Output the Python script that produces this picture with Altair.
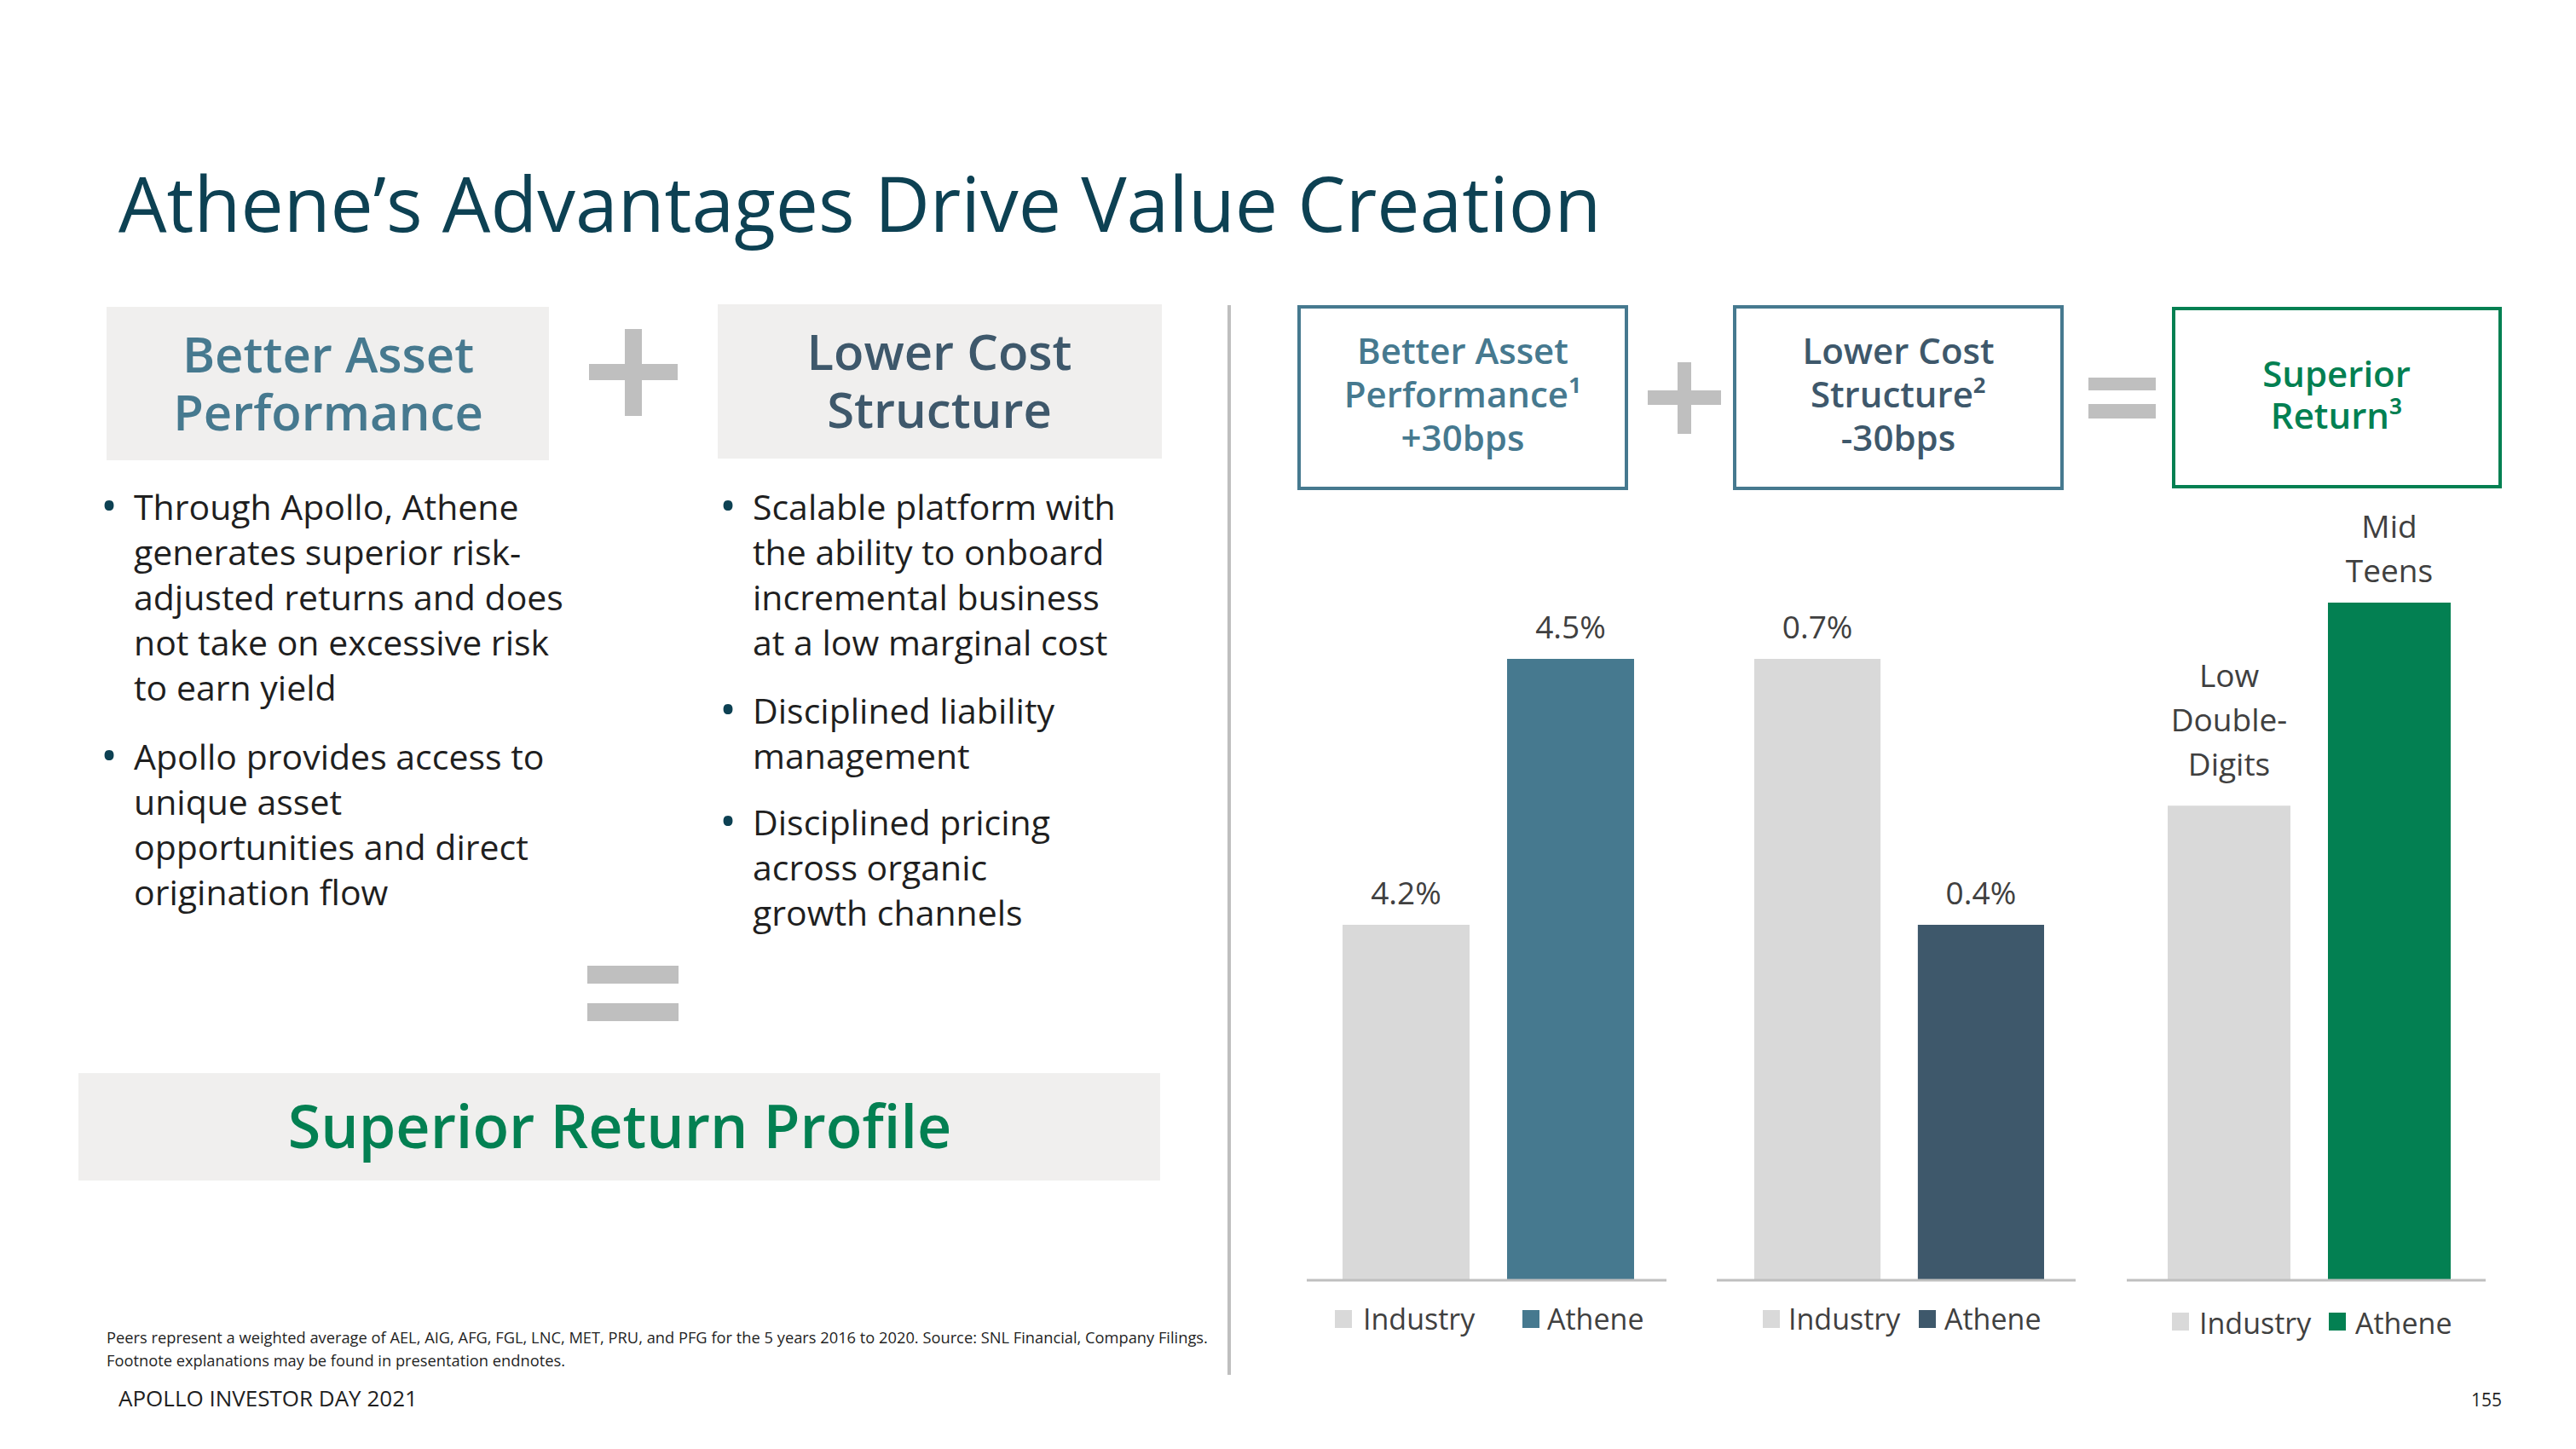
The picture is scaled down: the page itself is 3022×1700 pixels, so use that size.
import altair as alt
import pandas as pd

# ---------------- data ----------------
title_text = "Athene’s Advantages Drive Value Creation"
series = ["Industry", "Athene"]

asset_values = [4.2, 4.5]
asset_labels = ["4.2%", "4.5%"]
cost_values = [0.7, 0.4]
cost_labels = ["0.7%", "0.4%"]
# qualitative bars: heights
return_values = [10.5, 15.0]
return_labels = ["Low\nDouble-\nDigits", "Mid\nTeens"]

left_heading_1 = ["Better Asset", "Performance"]
left_heading_2 = ["Lower Cost", "Structure"]
bullets_left = [
    ["Through Apollo, Athene", "generates superior risk-", "adjusted returns and does",
     "not take on excessive risk", "to earn yield"],
    ["Apollo provides access to", "unique asset", "opportunities and direct", "origination flow"],
]
bullets_right = [
    ["Scalable platform with", "the ability to onboard", "incremental business", "at a low marginal cost"],
    ["Disciplined liability", "management"],
    ["Disciplined pricing", "across organic", "growth channels"],
]
result_text = "Superior Return Profile"
box_titles = [
    ["Better Asset", "Performance¹", "+30bps"],
    ["Lower Cost", "Structure²", "-30bps"],
    ["Superior", "Return³"],
]
footnote_lines = [
    "Peers represent a weighted average of AEL, AIG, AFG, FGL, LNC, MET, PRU, and PFG for the 5 years 2016 to 2020. Source: SNL Financial, Company Filings.",
    "Footnote explanations may be found in presentation endnotes.",
]
footer_text = "APOLLO INVESTOR DAY 2021"
page_number = "155"

# ---------------- style ----------------
FONT = "Open Sans"
TITLE_C = "#0D4153"
BLUE1 = "#46798F"
BLUE2 = "#3E586B"
GREEN = "#038052"
GRAY_BAR = "#D9D9D9"
BOX_BG = "#F0EFEE"
SYMBOL = "#BFBFBF"
TEXT_C = "#1F1F1F"
LABEL_C = "#404040"

W, H = 3006, 1684
M = 8  # page margin


def px(v):
    return v - M


one = pd.DataFrame({"a": [0]})


def text(lines, x, y, size, color, weight=400, align="left", lh=None, font=FONT):
    df = pd.DataFrame({"t": ["\n".join(lines) if isinstance(lines, list) else lines]})
    return alt.Chart(df).mark_text(
        align=align, baseline="alphabetic", font=font, fontSize=size,
        fontWeight=weight, color=color, lineBreak="\n",
        lineHeight=lh if lh else size * 1.25,
    ).encode(x=alt.value(px(x)), y=alt.value(px(y)), text="t:N")


def rect(x1, y1, x2, y2, fill, stroke=None, sw=0):
    kw = dict(fill=fill)
    if stroke:
        kw.update(stroke=stroke, strokeWidth=sw)
    return alt.Chart(one).mark_rect(**kw).encode(
        x=alt.value(px(x1)), x2=alt.value(px(x2)), y=alt.value(px(y1)), y2=alt.value(px(y2)))


def rule(x1, x2, y1, y2, color, sw):
    return alt.Chart(one).mark_rule(color=color, strokeWidth=sw).encode(
        x=alt.value(px(x1)), x2=alt.value(px(x2)), y=alt.value(px(y1)), y2=alt.value(px(y2)))


BASE = 1501  # page y of bar baseline
LABEL_LH = 52


def bar_group(values, labels, colors, x0, x1, pad, lo, hi, k, gaps):
    df = pd.DataFrame({"series": series, "value": values, "label": labels})
    df["base"] = lo
    xscale = alt.Scale(type="band", domain=series, range=[px(x0), px(x1)],
                       paddingInner=pad, paddingOuter=0)
    yscale = alt.Scale(domain=[lo, hi], range=[px(BASE), px(BASE) - k * (hi - lo)],
                       zero=False, nice=False)
    col = alt.Color("series:N", scale=alt.Scale(domain=series, range=colors), legend=None)
    base = alt.Chart(df)
    layers = [base.mark_bar().encode(
        x=alt.X("series:N", scale=xscale, axis=None),
        y=alt.Y("value:Q", scale=yscale, axis=None),
        y2="base:Q",
        color=col,
    )]
    for s, lab, gap in zip(series, labels, gaps):
        n = lab.count("\n")
        layers.append(base.transform_filter(alt.datum.series == s).mark_text(
            baseline="bottom", align="center", dy=-gap - n * LABEL_LH, font=FONT, fontSize=37,
            color=LABEL_C, lineBreak="\n", lineHeight=LABEL_LH,
        ).encode(
            x=alt.X("series:N", scale=xscale, axis=None, bandPosition=0.5),
            y=alt.Y("value:Q", scale=yscale, axis=None),
            text="label:N",
        ))
    return alt.layer(*layers)


def legend(colors, sq_x, txt_x, y_top, baseline):
    out = []
    for s, c, sx, tx in zip(series, colors, sq_x, txt_x):
        out.append(rect(sx, y_top, sx + 20, y_top + 21, c))
        out.append(text(s, tx, baseline, 34, LABEL_C))
    return out


layers = []

# title
layers.append(text(title_text, 139, 272, 89.5, TITLE_C))

# left heading boxes
layers.append(rect(125, 360, 644, 540, BOX_BG))
layers.append(text(left_heading_1, 385, 437, 58, BLUE1, weight=600, align="center", lh=68))
layers.append(rect(842, 357, 1363, 538, BOX_BG))
layers.append(text(left_heading_2, 1102, 434, 58, BLUE2, weight=600, align="center", lh=68))
# plus (left)
layers.append(rect(733, 386, 753, 488, SYMBOL))
layers.append(rect(691, 427, 795, 446, SYMBOL))

# bullets
for block, yb in zip(bullets_left, [610, 903]):
    layers.append(text("•", 128, yb + 2, 52, TITLE_C, align="center"))
    layers.append(text(block, 157, yb, 41, TEXT_C, lh=53))
for block, yb in zip(bullets_right, [610, 849, 980]):
    layers.append(text("•", 854, yb + 2, 52, TITLE_C, align="center"))
    layers.append(text(block, 883, yb, 41, TEXT_C, lh=53))

# equal (left)
layers.append(rect(689, 1133, 796, 1154, SYMBOL))
layers.append(rect(689, 1177, 796, 1198, SYMBOL))

# result box
layers.append(rect(92, 1259, 1361, 1385, BOX_BG))
layers.append(text(result_text, 727, 1347, 70, GREEN, weight=600, align="center"))

# footnote & footer
layers.append(text(footnote_lines, 125, 1576, 18.3, TEXT_C, lh=27))
layers.append(text(footer_text, 139, 1650, 26, TEXT_C))
layers.append(text(page_number, 2935, 1650, 21, TEXT_C, align="right"))

# divider
layers.append(rect(1440, 358, 1444, 1613, SYMBOL))

# right boxes
layers.append(rect(1524, 360, 1908, 573, "white", BLUE1, 4))
layers.append(text(box_titles[0], 1716, 427, 42, BLUE1, weight=600, align="center", lh=51))
layers.append(rect(2035, 360, 2419, 573, "white", BLUE1, 4))
layers.append(text(box_titles[1], 2227, 427, 42, BLUE2, weight=600, align="center", lh=51))
layers.append(rect(2550, 362, 2933, 571, "white", GREEN, 4))
layers.append(text(box_titles[2], 2741, 454, 42, GREEN, weight=600, align="center", lh=49))
# plus / equal (right)
layers.append(rect(1968, 425, 1984, 509, SYMBOL))
layers.append(rect(1933, 458, 2019, 475, SYMBOL))
layers.append(rect(2450, 443, 2529, 458, SYMBOL))
layers.append(rect(2450, 474, 2529, 491, SYMBOL))

# bar groups
g1 = bar_group(asset_values, asset_labels, [GRAY_BAR, BLUE1], 1575, 1917, 0.228, 3.8, 4.8, 1040, [16, 16])
g2 = bar_group(cost_values, cost_labels, [GRAY_BAR, BLUE2], 2058, 2398, 0.228, 0.0, 1.0, 1040, [16, 16])
g3 = bar_group(return_values, return_labels, [GRAY_BAR, GREEN], 2543, 2875, 0.234, 0.0, 16.0, 794 / 15, [27, 16])

# baselines under bars
layers.append(rule(1533, 1955, 1502, 1502, SYMBOL, 3))
layers.append(rule(2014, 2435, 1502, 1502, SYMBOL, 3))
layers.append(rule(2495, 2916, 1502, 1502, SYMBOL, 3))

# legends
layers += legend([GRAY_BAR, BLUE1], [1566, 1786], [1599, 1815], 1537, 1560)
layers += legend([GRAY_BAR, BLUE2], [2068, 2251], [2098, 2281], 1537, 1560)
layers += legend([GRAY_BAR, GREEN], [2548, 2732], [2580, 2763], 1540, 1565)

chart = alt.layer(g1, g2, g3, *layers).resolve_scale(
    x="independent", y="independent", color="independent"
).properties(
    width=W, height=H, padding=0, autosize="none", background="white"
).configure_view(stroke=None)

chart.save("out.html", embed_options={"renderer": "svg", "actions": False})
